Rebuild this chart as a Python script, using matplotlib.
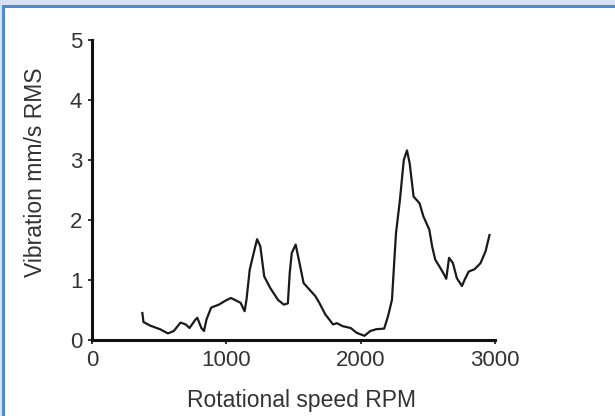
import matplotlib
matplotlib.use("Agg")
import matplotlib.pyplot as plt
from matplotlib.patches import Rectangle

# values
rpm = [375, 383, 433, 506, 565, 609, 659, 697, 726, 770, 784, 814, 834, 852,
       887, 945, 989, 1033, 1062, 1106, 1136, 1150, 1174, 1209, 1229, 1253,
       1282, 1326, 1384, 1428, 1458, 1472, 1487, 1516, 1545, 1575, 1619, 1663,
       1692, 1736, 1794, 1824, 1867, 1926, 1970, 2028, 2072, 2116, 2175, 2204,
       2233, 2248, 2263, 2292, 2321, 2345, 2365, 2394, 2438, 2467, 2511, 2532,
       2555, 2585, 2614, 2637, 2658, 2687, 2716, 2754, 2775, 2804, 2848, 2892,
       2930, 2959]
vibration = [0.45, 0.30, 0.24, 0.18, 0.11, 0.15, 0.29, 0.26, 0.20, 0.34, 0.37,
             0.20, 0.15, 0.34, 0.54, 0.59, 0.65, 0.70, 0.67, 0.62, 0.48, 0.67,
             1.17, 1.50, 1.68, 1.56, 1.06, 0.87, 0.67, 0.59, 0.61, 1.12, 1.45,
             1.59, 1.28, 0.95, 0.84, 0.73, 0.62, 0.43, 0.26, 0.28, 0.23, 0.20,
             0.12, 0.07, 0.15, 0.18, 0.19, 0.40, 0.67, 1.23, 1.78, 2.33, 3.00,
             3.16, 2.94, 2.39, 2.28, 2.06, 1.84, 1.56, 1.34, 1.23, 1.12, 1.02,
             1.37, 1.28, 1.03, 0.90, 1.01, 1.14, 1.18, 1.28, 1.48, 1.75]
xticks = [0, 1000, 2000, 3000]
yticks = [0, 1, 2, 3, 4, 5]

plt.rcParams['font.family'] = ['Liberation Sans', 'DejaVu Sans']

fig = plt.figure(figsize=(6.15, 4.16), dpi=100)
W, H = 615.0, 416.0

# frame: pale strip on top/left, blue rule inside it
fig.patches.append(Rectangle((0, 1 - 5 / H), 1, 5 / H, transform=fig.transFigure,
                             facecolor='#d8e1f2', edgecolor='none', zorder=0))
fig.patches.append(Rectangle((0, 0), 2 / W, 1, transform=fig.transFigure,
                             facecolor='#d8e1f2', edgecolor='none', zorder=0))
fig.patches.append(Rectangle((2 / W, 1 - 8 / H), 1 - 2 / W, 3 / H, transform=fig.transFigure,
                             facecolor='#4f8bd0', edgecolor='none', zorder=1))
fig.patches.append(Rectangle((2 / W, 0), 3 / W, 1 - 5 / H, transform=fig.transFigure,
                             facecolor='#4f8bd0', edgecolor='none', zorder=1))

ax = fig.add_axes([92 / W, (416 - 340) / H, 403 / W, 300 / H])
ax.plot(rpm, vibration, color='#1a1a1a', linewidth=1.6)
ax.set_xlim(0, 3000)
ax.set_ylim(0, 5)
ax.set_xticks(xticks)
ax.set_yticks(yticks)
for side in ['top', 'right']:
    ax.spines[side].set_visible(False)
for side in ['left', 'bottom']:
    ax.spines[side].set_linewidth(2.2)
    ax.spines[side].set_color('#111111')
ax.tick_params(axis='both', length=3, width=1.2, colors='#111111',
               labelcolor='#333333', labelsize=16)
ax.tick_params(axis='x', pad=4)
ax.tick_params(axis='y', pad=4)
ax.set_xlabel('Rotational speed RPM', fontsize=16.5, color='#333333')
ax.set_ylabel('Vibration mm/s RMS', fontsize=16.5, color='#333333')
ax.xaxis.set_label_coords(0.52, -0.163)
ax.yaxis.set_label_coords(-0.112, 0.558)

fig.savefig('out.png', dpi=100)
